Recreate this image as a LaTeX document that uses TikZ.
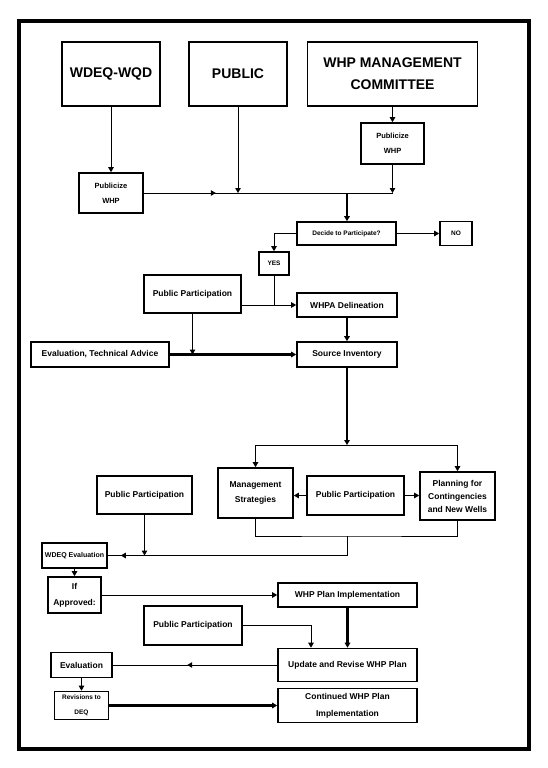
\documentclass[tikz,border=0pt]{standalone}
\usepackage{fontspec}
\setmainfont{Liberation Sans}
\usetikzlibrary{arrows.meta,decorations.markings}
\begin{document}
\begin{tikzpicture}[x=1pt,y=-1pt,
  box/.style={draw,line width=1.6pt,inner sep=0pt,align=center,font=\bfseries\fontsize{8.5}{15}\selectfont},
  big/.style={font=\bfseries\fontsize{14}{22}\selectfont},
  small/.style={font=\bfseries\fontsize{7.5}{15}\selectfont},
  tiny/.style={font=\bfseries\fontsize{6.5}{15}\selectfont},
  thinl/.style={line width=1pt},
  heavy/.style={line width=2.3pt},
  arr/.style={-{Triangle[length=5pt,width=5.5pt]}},
  midarr/.style={postaction={decorate},decoration={markings,mark=at position #1 with {\arrow{Triangle[length=5pt,width=5.5pt]}}}}
]
\useasboundingbox (0,0) rectangle (547,768);
\draw[line width=3.5pt] (19,21) rectangle (529,749);

% nodes
\node[box,big,minimum width=98pt,minimum height=64pt] (wdeq) at (111,74) {WDEQ-WQD};
\node[box,big,minimum width=98pt,minimum height=64pt] (public) at (238,74) {PUBLIC};
\node[box,big,minimum width=170pt,minimum height=64pt] (comm) at (392.5,74) {WHP MANAGEMENT\\COMMITTEE};
\node[box,small,minimum width=63pt,minimum height=41pt] (pubR) at (392.5,143.5) {Publicize\\WHP};
\node[box,small,minimum width=64pt,minimum height=40pt] (pubL) at (111,193) {Publicize\\WHP};
\node[box,tiny,minimum width=99pt,minimum height=23pt] (decide) at (346.5,233.5) {Decide to Participate?};
\node[box,tiny,minimum width=32pt,minimum height=24pt] (no) at (456,233.5) {NO};
\node[box,tiny,minimum width=30pt,minimum height=23pt] (yes) at (274,263.5) {YES};
\node[box,minimum width=97pt,minimum height=38pt] (pp1) at (192.5,294) {Public Participation};
\node[box,minimum width=100pt,minimum height=24pt] (whpa) at (347,305) {WHPA Delineation};
\node[box,minimum width=100pt,minimum height=25pt] (si) at (347,354.5) {Source Inventory};
\node[box,minimum width=138pt,minimum height=25pt] (evt) at (100,354.5) {Evaluation, Technical Advice};
\node[box,minimum width=75pt,minimum height=50pt] (mgmt) at (255.5,493) {Management\\Strategies};
\node[box,minimum width=97pt,minimum height=39pt] (ppm) at (355.5,495.5) {Public Participation};
\node[box,font=\bfseries\fontsize{8.5}{13}\selectfont,minimum width=75pt,minimum height=48pt] (plan) at (457.5,496) {Planning for\\Contingencies\\and New Wells};
\node[box,minimum width=95pt,minimum height=38pt] (ppl) at (144.5,495) {Public Participation};
\node[box,font=\bfseries\fontsize{7}{15}\selectfont,minimum width=65pt,minimum height=25pt] (wdeqev) at (74.5,555.5) {WDEQ Evaluation};
\node[box,font=\bfseries\fontsize{8.5}{16}\selectfont,minimum width=53pt,minimum height=36pt] (ifap) at (74.5,595) {If\\Approved:};
\node[box,minimum width=139pt,minimum height=24pt] (whpi) at (347.5,595) {WHP Plan Implementation};
\node[box,minimum width=98pt,minimum height=39pt] (ppl2) at (193,625.5) {Public Participation};
\node[box,minimum width=139pt,minimum height=33pt] (upd) at (347.5,665) {Update and Revise WHP Plan};
\node[box,minimum width=61pt,minimum height=25pt] (eval) at (81.5,665) {Evaluation};
\node[box,tiny,minimum width=54pt,minimum height=28pt] (rev) at (81.5,705.5) {Revisions to\\DEQ};
\node[box,font=\bfseries\fontsize{8.5}{17}\selectfont,minimum width=139pt,minimum height=34pt] (cont) at (347.5,705.5) {Continued WHP Plan\\Implementation};

\coordinate (j1) at (238,193);
\coordinate (j2) at (392.5,193);
\coordinate (j3) at (347,193);
\coordinate (j4) at (347,445);
\coordinate (j5) at (347,536);

% connectors
\draw[thinl,arr] (wdeq.south) -- (pubL.north);
\draw[thinl,arr] (public.south) -- (j1);
\draw[thinl,arr] (comm.south) -- (pubR.north);
\draw[thinl,arr] (pubR.south) -- (j2);
\draw[thinl,midarr=72pt] (pubL.east) -- (j2);
\draw[heavy,arr] (j3) -- (decide.north -| j3);
\draw[thinl,arr] (decide.west) -| (yes.north);
\draw[thinl,arr] (decide.east) -- (no.west);
\draw[thinl] (yes.south) -- (yes.south |- whpa.west);
\draw[thinl,arr] (pp1.east |- whpa.west) -- (whpa.west);
\draw[thinl,arr] (pp1.south) -- (pp1.south |- evt.east);
\draw[heavy,arr] (evt.east) -- (si.west);
\draw[heavy,arr] (whpa.south) -- (si.north);
\draw[heavy,arr] (si.south) -- (j4);
\draw[thinl,arr] (j4) -| (mgmt.north);
\draw[thinl,arr] (j4) -| (plan.north);
\draw[thinl,arr] (ppm.west) -- (ppm.west -| mgmt.east);
\draw[thinl,arr] (ppm.east) -- (ppm.east -| plan.west);
\draw[thinl] (mgmt.south) |- (j5) -| (plan.south);
\draw[thinl,midarr=-13pt] (j5) |- (wdeqev.east);
\draw[thinl,arr] (ppl.south) -- (ppl.south |- wdeqev.east);
\draw[thinl,arr] (wdeqev.south) -- (ifap.north);
\draw[thinl,arr] (ifap.east) -- (whpi.west);
\draw[heavy,arr] (whpi.south) -- (upd.north);
\draw[thinl,arr] (ppl2.east) -| ([xshift=-36.5pt]upd.north);
\draw[thinl,midarr=90pt] (upd.west) -- (eval.east);
\draw[thinl,arr] (eval.south) -- (rev.north);
\draw[heavy,arr] (rev.east) -- (cont.west);
\end{tikzpicture}
\end{document}
